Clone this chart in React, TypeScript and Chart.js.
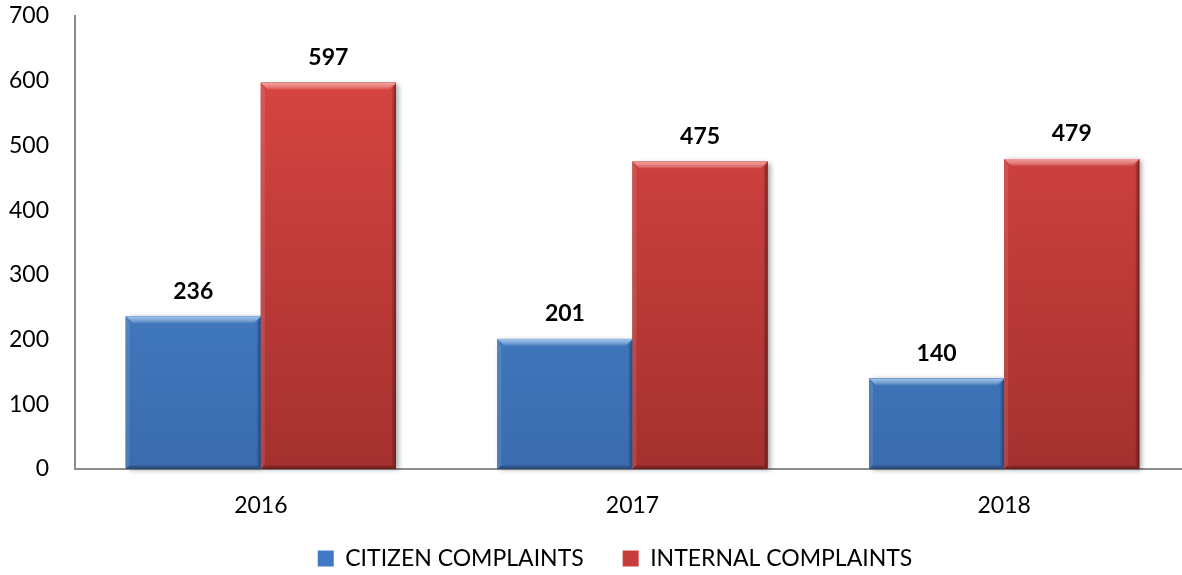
import React, { useEffect, useRef } from "react";
import { Chart, registerables } from "chart.js";

Chart.register(...registerables);

const categories = ["2016", "2017", "2018"];
const citizenComplaints = [236, 201, 140];
const internalComplaints = [597, 475, 479];
const seriesNames = ["CITIZEN COMPLAINTS", "INTERNAL COMPLAINTS"];
const yMin = 0;
const yMax = 700;
const yStep = 100;

const palettes = [
  { top: "#4c8cda", bottom: "#3a6cae", light: "rgba(175,215,252,0.8)", dark: "rgba(20,45,90,0.55)", side: "rgba(255,255,255,0.10)", solid: "#4079c4" },
  { top: "#de4744", bottom: "#a4312f", light: "rgba(255,175,170,0.8)", dark: "rgba(70,10,10,0.55)", side: "rgba(255,255,255,0.10)", solid: "#c73d3b" },
];

const FONT = "Lato, 'Open Sans', sans-serif";
const FS = 23;

const bevelPlugin = {
  id: "bevelBars",
  beforeDatasetsDraw(chart: any) {
    const ctx = chart.ctx;
    ctx.save();
    chart.data.datasets.forEach((_: any, di: number) => {
      const meta = chart.getDatasetMeta(di);
      meta.data.forEach((el: any) => {
        const p = el.getProps(["x", "y", "base", "width"], true);
        const l = p.x - p.width / 2;
        ctx.shadowColor = "rgba(0,0,0,0.35)";
        ctx.shadowBlur = 5;
        ctx.shadowOffsetX = 3;
        ctx.shadowOffsetY = 1;
        ctx.fillStyle = "rgba(120,120,120,1)";
        ctx.fillRect(l, p.y, p.width, p.base - p.y);
      });
    });
    ctx.restore();
  },
  afterDatasetsDraw(chart: any) {
    const ctx = chart.ctx;
    ctx.save();
    chart.data.datasets.forEach((_: any, di: number) => {
      const meta = chart.getDatasetMeta(di);
      const pal = palettes[di];
      meta.data.forEach((el: any) => {
        const p = el.getProps(["x", "y", "base", "width"], true);
        const l = p.x - p.width / 2;
        const r = p.x + p.width / 2;
        const t = p.y;
        const b = p.base;
        const g = ctx.createLinearGradient(0, chart.chartArea.top, 0, chart.chartArea.bottom);
        g.addColorStop(0, pal.top);
        g.addColorStop(1, pal.bottom);
        ctx.fillStyle = g;
        ctx.fillRect(l, t, r - l, b - t);
        const bt = 7;
        const s = 4;
        const tg = ctx.createLinearGradient(0, t, 0, t + bt);
        tg.addColorStop(0, pal.light);
        tg.addColorStop(1, "rgba(255,255,255,0.05)");
        ctx.fillStyle = tg;
        ctx.beginPath();
        ctx.moveTo(l, t);
        ctx.lineTo(r, t);
        ctx.lineTo(r - bt, t + bt);
        ctx.lineTo(l + bt, t + bt);
        ctx.closePath();
        ctx.fill();
        ctx.fillStyle = pal.side;
        ctx.beginPath();
        ctx.moveTo(l, t);
        ctx.lineTo(l + s, t + bt);
        ctx.lineTo(l + s, b - s);
        ctx.lineTo(l, b);
        ctx.closePath();
        ctx.fill();
        const rg = ctx.createLinearGradient(r - s, 0, r, 0);
        rg.addColorStop(0, "rgba(0,0,0,0.05)");
        rg.addColorStop(1, pal.dark);
        ctx.fillStyle = rg;
        ctx.beginPath();
        ctx.moveTo(r, t);
        ctx.lineTo(r, b);
        ctx.lineTo(r - s, b - s);
        ctx.lineTo(r - s, t + bt);
        ctx.closePath();
        ctx.fill();
        const bg = ctx.createLinearGradient(0, b - s, 0, b);
        bg.addColorStop(0, "rgba(0,0,0,0.05)");
        bg.addColorStop(1, pal.dark);
        ctx.fillStyle = bg;
        ctx.beginPath();
        ctx.moveTo(l, b);
        ctx.lineTo(r, b);
        ctx.lineTo(r - s, b - s);
        ctx.lineTo(l + s, b - s);
        ctx.closePath();
        ctx.fill();
      });
    });
    ctx.fillStyle = "#000";
    ctx.font = `bold ${FS}px ${FONT}`;
    ctx.textAlign = "center";
    ctx.textBaseline = "middle";
    chart.data.datasets.forEach((ds: any, di: number) => {
      const meta = chart.getDatasetMeta(di);
      meta.data.forEach((el: any, i: number) => {
        const p = el.getProps(["x", "y"], true);
        ctx.fillText(String(ds.data[i]), p.x, p.y - 25);
      });
    });
    ctx.restore();
  },
};

export default function App() {
  const ref = useRef<HTMLCanvasElement | null>(null);
  useEffect(() => {
    document.body.style.margin = "0";
    document.body.style.overflow = "hidden";
    const canvas = ref.current;
    if (!canvas) return;
    const chart = new Chart(canvas, {
      type: "bar",
      data: {
        labels: categories,
        datasets: [
          { label: seriesNames[0], data: citizenComplaints, backgroundColor: palettes[0].solid, borderWidth: 0 },
          { label: seriesNames[1], data: internalComplaints, backgroundColor: palettes[1].solid, borderWidth: 0 },
        ],
      },
      options: {
        animation: false,
        responsive: false,
        maintainAspectRatio: false,
        layout: { padding: { top: 16, left: 40, right: 0, bottom: -5 } },
        datasets: { bar: { categoryPercentage: 0.727, barPercentage: 1 } },
        plugins: {
          tooltip: { enabled: false },
          legend: {
            position: "bottom",
            labels: {
              boxWidth: 16,
              boxHeight: 16,
              padding: 39,
              color: "#000",
              font: { family: FONT, size: FS },
            },
          },
        },
        scales: {
          x: {
            grid: { display: false, drawTicks: false },
            border: { display: true, color: "#8c8c8c", width: 2 },
            ticks: { color: "#000", font: { family: FONT, size: FS }, padding: 23 },
            afterFit: (scale: any) => {
              scale.height = 39;
              scale._computeLabelArea = () => undefined;
            },
          },
          y: {
            min: yMin,
            max: yMax,
            grid: { display: false, drawTicks: false },
            border: { display: true, color: "#8c8c8c", width: 2 },
            ticks: { stepSize: yStep, color: "#000", font: { family: FONT, size: FS }, padding: 26 },
            afterFit: (scale: any) => {
              scale.width = 35;
              scale.paddingTop = 0;
              scale.paddingBottom = 0;
              scale._computeLabelArea = () => undefined;
            },
          },
        },
      },
      plugins: [bevelPlugin],
    });
    return () => chart.destroy();
  }, []);
  return (
    <div style={{ width: 1190, height: 575, overflow: "hidden" }}>
      <canvas ref={ref} width={1190} height={575} style={{ display: "block" }} />
    </div>
  );
}
